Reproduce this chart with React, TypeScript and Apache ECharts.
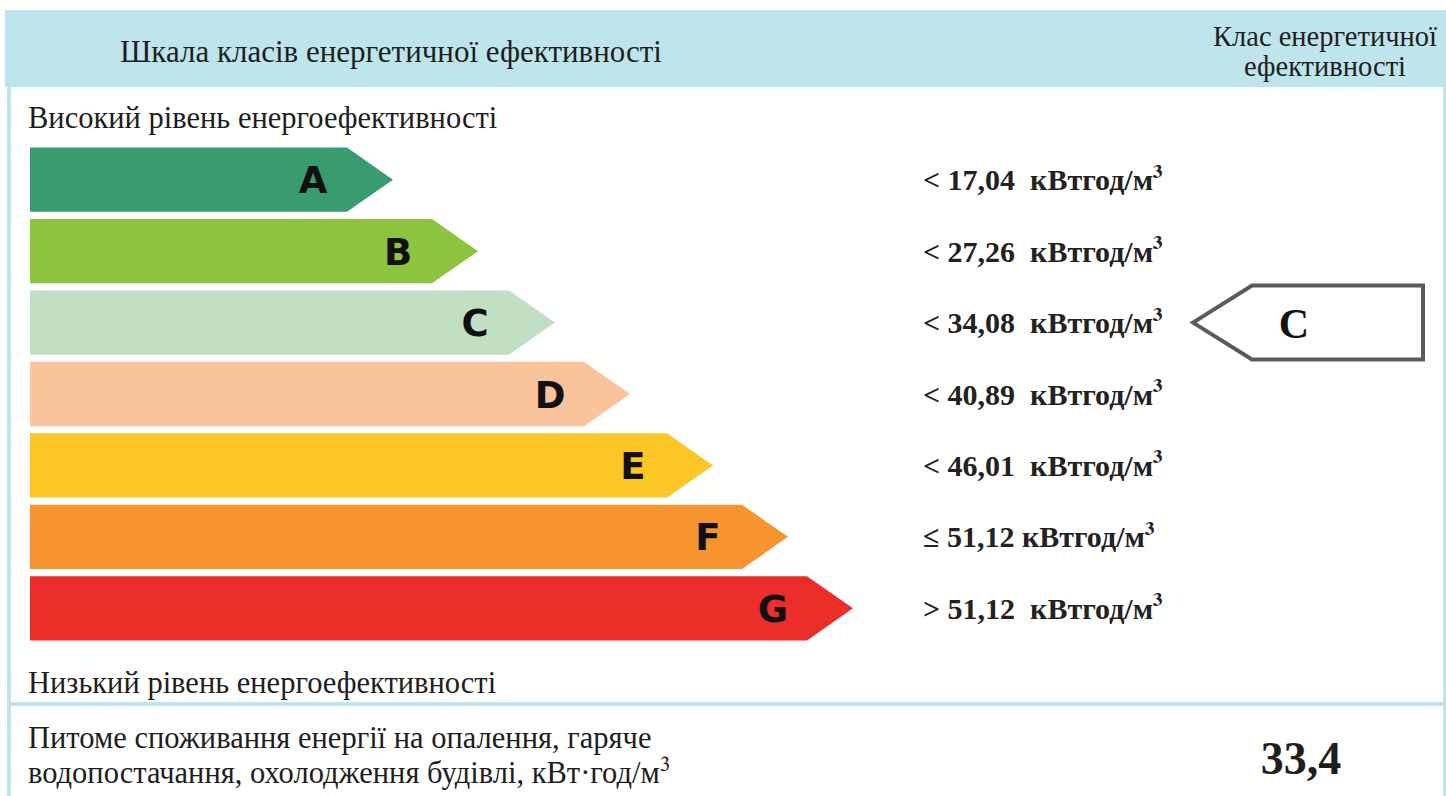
import React, { useEffect, useRef } from "react";
import * as echarts from "echarts";

// ---- data ----
const classes = ["A", "B", "C", "D", "E", "F", "G"];
// arrow lengths (tip distance from the left edge of the scale)
const arrowLengths = [363, 448, 525, 600, 683, 758, 823];
const classColors = ["#399b70", "#8cc43f", "#c1dfc3", "#f9c39c", "#fcc626", "#f6952f", "#ec2e2b"];
const thresholdLabels = [
  "< 17,04  кВтгод/м",
  "< 27,26  кВтгод/м",
  "< 34,08  кВтгод/м",
  "< 40,89  кВтгод/м",
  "< 46,01  кВтгод/м",
  "≤ 51,12 кВтгод/м",
  "> 51,12  кВтгод/м",
];
const unitPower = "³";
const currentClass = "C";
const specificConsumption = "33,4";
const headerLeft = "Шкала класів енергетичної ефективності";
const headerRightLine1 = "Клас енергетичної";
const headerRightLine2 = "ефективності";
const topNote = "Високий рівень енергоефективності";
const bottomNote = "Низький рівень енергоефективності";
const consumptionLine1 = "Питоме споживання енергії на опалення, гаряче";
const consumptionLine2 = "водопостачання, охолодження будівлі, кВт·год/м";

// ---- layout constants ----
const W = 1446;
const H = 796;
const BLUE = "#bee5eb";
const TEXT = "#1e1e1e";
const SERIF = "Liberation Serif";
const SUP = "FreeSerif";
const SANS = "DejaVu Sans";
const labelColumn = 893;
const indicatorTip = 1163;
const indicatorFlat = 1222;
const indicatorRight = 1393;
const indicatorText = 1264;

const serifText = (x: number, y: number, text: string, size = 30.5, extra: any = {}) => ({
  type: "text",
  x,
  y,
  style: {
    text,
    fontFamily: SERIF,
    fontSize: size,
    fill: TEXT,
    align: "left",
    verticalAlign: "middle",
    ...extra,
  },
});

export default function App() {
  const ref = useRef<HTMLDivElement>(null);

  useEffect(() => {
    document.body.style.margin = "0";
    if (!ref.current) return;
    const chart = echarts.init(ref.current, undefined, { renderer: "svg" });

    const arrowData = arrowLengths.map((len, i) => ({
      value: [len, i],
      itemStyle: { color: classColors[i] },
    }));
    const currentIdx = classes.indexOf(currentClass);

    const option: any = {
      animation: false,
      backgroundColor: "#ffffff",
      grid: { left: 30, top: 144, width: 1416, height: 500, containLabel: false },
      xAxis: { type: "value", min: 0, max: 1416, show: false },
      yAxis: { type: "category", data: classes, inverse: true, show: false },
      graphic: [
        { type: "rect", shape: { x: 5, y: 10, width: W - 5, height: 77 }, style: { fill: BLUE }, silent: true },
        { type: "rect", shape: { x: 7, y: 87, width: 4, height: H - 87 }, style: { fill: BLUE }, silent: true },
        { type: "rect", shape: { x: 1443, y: 87, width: 3, height: H - 87 }, style: { fill: BLUE }, silent: true },
        { type: "rect", shape: { x: 7, y: 702, width: W - 7, height: 4 }, style: { fill: BLUE }, silent: true },
        serifText(391, 51, headerLeft, 31, { align: "center" }),
        serifText(1325, 36, headerRightLine1, 28.5, { align: "center" }),
        serifText(1325, 66, headerRightLine2, 28.5, { align: "center" }),
        serifText(28, 118, topNote),
        serifText(28, 683, bottomNote),
        serifText(28, 738, consumptionLine1),
        {
          type: "text",
          x: 28,
          y: 773,
          style: {
            text: `{a|${consumptionLine2}}{s|${unitPower}}`,
            verticalAlign: "middle",
            align: "left",
            rich: {
              a: { fontFamily: SERIF, fontSize: 30.5, fill: TEXT },
              s: { fontFamily: SUP, fontSize: 30, fill: TEXT },
            },
          },
        },
        serifText(1301, 758, specificConsumption, 46, { align: "center", fontWeight: "bold" }),
      ],
      series: [
        {
          type: "custom",
          name: "scale",
          data: arrowData,
          encode: { x: 0, y: 1 },
          renderItem: (params: any, api: any) => {
            const len = api.value(0);
            const idx = api.value(1);
            const start = api.coord([0, idx]);
            const tip = api.coord([len, idx]);
            const lab = api.coord([labelColumn, idx]);
            const band = api.size([0, 1])[1];
            const h = band * 0.9;
            const d = 46;
            const y = start[1];
            return {
              type: "group",
              children: [
                {
                  type: "polygon",
                  shape: {
                    points: [
                      [start[0], y - h / 2],
                      [tip[0] - d, y - h / 2],
                      [tip[0], y],
                      [tip[0] - d, y + h / 2],
                      [start[0], y + h / 2],
                    ],
                  },
                  style: { fill: api.visual("color") },
                },
                {
                  type: "text",
                  x: tip[0] - 80,
                  y: y + 1,
                  style: {
                    text: classes[idx],
                    fontFamily: SANS,
                    fontWeight: "bold",
                    fontSize: 37,
                    fill: "#111111",
                    align: "center",
                    verticalAlign: "middle",
                  },
                },
                {
                  type: "text",
                  x: lab[0],
                  y: y,
                  style: {
                    text: `{a|${thresholdLabels[idx]}}{s|${unitPower}}`,
                    align: "left",
                    verticalAlign: "middle",
                    rich: {
                      a: { fontFamily: SERIF, fontWeight: "bold", fontSize: 30, fill: "#222222" },
                      s: { fontFamily: SUP, fontWeight: "bold", fontSize: 30, fill: "#222222" },
                    },
                  },
                },
              ],
            };
          },
        },
        {
          type: "custom",
          name: "current",
          data: [[0, currentIdx]],
          encode: { x: 0, y: 1 },
          renderItem: (params: any, api: any) => {
            const idx = api.value(1);
            const tip = api.coord([indicatorTip, idx]);
            const flat = api.coord([indicatorFlat, idx]);
            const right = api.coord([indicatorRight, idx]);
            const txt = api.coord([indicatorText, idx]);
            const band = api.size([0, 1])[1];
            const h = band * 1.035;
            const y = tip[1];
            return {
              type: "group",
              children: [
                {
                  type: "polygon",
                  shape: {
                    points: [
                      [tip[0], y],
                      [flat[0], y - h / 2],
                      [right[0], y - h / 2],
                      [right[0], y + h / 2],
                      [flat[0], y + h / 2],
                    ],
                  },
                  style: { fill: "#ffffff", stroke: "#5a5a5a", lineWidth: 4 },
                },
                {
                  type: "text",
                  x: txt[0],
                  y: y + 1,
                  style: {
                    text: classes[idx],
                    fontFamily: SERIF,
                    fontWeight: "bold",
                    fontSize: 42,
                    fill: "#111111",
                    align: "center",
                    verticalAlign: "middle",
                  },
                },
              ],
            };
          },
        },
      ],
    };

    chart.setOption(option);
    return () => chart.dispose();
  }, []);

  return <div ref={ref} style={{ width: W, height: H }} />;
}
